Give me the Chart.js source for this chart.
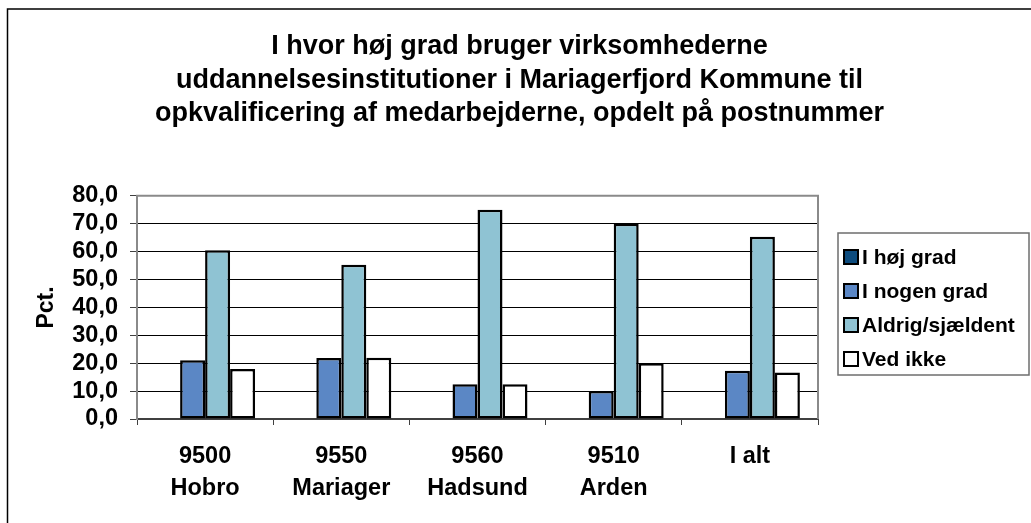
<!DOCTYPE html>
<html>
<head>
<meta charset="utf-8">
<script src="https://cdn.jsdelivr.net/npm/chart.js@4.4.0/dist/chart.umd.min.js"></script>
<style>
  html, body { margin: 0; padding: 0; background: #fff; }
  #wrap { width: 1031px; height: 523px; }
</style>
</head>
<body>
<div id="wrap"><canvas id="chart" width="1031" height="523"></canvas></div>
<script>
// data
var categories = [["9500", "Hobro"], ["9550", "Mariager"], ["9560", "Hadsund"], ["9510", "Arden"], ["I alt"]];
var seriesNames = ["I høj grad", "I nogen grad", "Aldrig/sjældent", "Ved ikke"];
var hoejGrad = [0, 0, 0, 0, 0];
var nogenGrad = [21.1, 21.9, 12.5, 10.0, 17.3];
var aldrig = [60.5, 55.3, 75.0, 70.0, 65.3];
var vedIkke = [17.9, 22.0, 12.5, 20.0, 16.7];
var yTicks = [0, 10, 20, 30, 40, 50, 60, 70, 80];
var colors = ["#0E4C7E", "#5B87C5", "#8FC3D3", "#FFFFFF"];

var FONT = "'Liberation Sans', Arial, sans-serif";

// ramme om hele figuren + plotområde
var frames = {
  id: "frames",
  beforeDraw: function (chart) {
    var ctx = chart.ctx;
    ctx.save();
    ctx.fillStyle = "#fff";
    ctx.fillRect(0, 0, chart.width, chart.height);
    ctx.strokeStyle = "#000";
    ctx.lineWidth = 1.5;
    ctx.strokeRect(7.5, 9, 1200, 1200);
    ctx.restore();
  },
  beforeDatasetsDraw: function (chart) {
    var a = chart.chartArea, ctx = chart.ctx;
    ctx.save();
    ctx.strokeStyle = "#8a8a8a";
    ctx.lineWidth = 2;
    ctx.beginPath();
    ctx.moveTo(a.left, a.bottom);
    ctx.lineTo(a.left, a.top);
    ctx.lineTo(a.right, a.top);
    ctx.lineTo(a.right, a.bottom);
    ctx.stroke();
    ctx.restore();
  }
};

// legende i boks til højre
var boxLegend = {
  id: "boxLegend",
  afterDraw: function (chart) {
    var ctx = chart.ctx;
    var x = 838, y = 233, w = 191, h = 142;
    ctx.save();
    ctx.strokeStyle = "#6e6e6e";
    ctx.lineWidth = 1.5;
    ctx.strokeRect(x, y, w, h);
    ctx.font = "bold 21px " + FONT;
    ctx.textBaseline = "middle";
    chart.data.datasets.forEach(function (ds, i) {
      var cy = y + 24 + i * 34;
      ctx.fillStyle = ds.backgroundColor;
      ctx.fillRect(x + 6, cy - 7, 14, 14);
      ctx.strokeStyle = "#000";
      ctx.lineWidth = 2;
      ctx.strokeRect(x + 6, cy - 7, 14, 14);
      ctx.fillStyle = "#000";
      ctx.fillText(ds.label, x + 24, cy + 1);
    });
    ctx.restore();
  }
};

var datasets = [hoejGrad, nogenGrad, aldrig, vedIkke].map(function (vals, i) {
  return {
    label: seriesNames[i],
    data: vals,
    backgroundColor: colors[i],
    borderColor: "#000",
    borderWidth: 2.5,
    borderSkipped: false,
    categoryPercentage: 0.734,
    barPercentage: 1.0
  };
});

new Chart(document.getElementById("chart"), {
  type: "bar",
  data: { labels: categories, datasets: datasets },
  options: {
    responsive: false,
    animation: false,
    devicePixelRatio: 1,
    layout: { padding: { left: 8, right: 0, top: 0, bottom: 0 } },
    plugins: {
      legend: { display: false },
      tooltip: { enabled: false },
      title: {
        display: true,
        text: [
          "I hvor høj grad bruger virksomhederne",
          "uddannelsesinstitutioner i Mariagerfjord Kommune til",
          "opkvalificering af medarbejderne, opdelt på postnummer"
        ],
        color: "#000",
        font: { family: FONT, size: 27, weight: "bold", lineHeight: 1.245 },
        padding: { top: 30, bottom: 65 }
      }
    },
    scales: {
      x: {
        afterFit: function (s) { s.height = 104; },
        grid: { offset: true, drawOnChartArea: false, tickLength: 6, color: "#404040", lineWidth: 1 },
        border: { color: "#404040", width: 2 },
        ticks: {
          color: "#000",
          padding: 16,
          maxRotation: 0,
          autoSkip: false,
          font: { family: FONT, size: 23.5, weight: "bold", lineHeight: 1.36 }
        }
      },
      y: {
        min: 0,
        max: 80,
        afterFit: function (s) { s.width = 129; },
        afterBuildTicks: function (s) { s.ticks = yTicks.map(function (v) { return { value: v }; }); },
        grid: { color: "#000", lineWidth: 1, tickLength: 7, tickColor: "#404040" },
        border: { color: "#8a8a8a", width: 2 },
        title: {
          display: true,
          text: "Pct.",
          color: "#000",
          font: { family: FONT, size: 23, weight: "bold" },
          padding: { top: 25, bottom: 0 }
        },
        ticks: {
          color: "#000",
          padding: 12,
          autoSkip: false,
          font: { family: FONT, size: 23.5, weight: "bold" },
          callback: function (v) { return Number(v).toFixed(1).replace(".", ","); }
        }
      },
      // tom akse som giver plads til legenden til højre
      spacer: {
        type: "linear",
        position: "right",
        afterFit: function (s) { s.width = 213; },
        grid: { display: false },
        border: { display: false },
        ticks: { display: false }
      }
    }
  },
  plugins: [frames, boxLegend]
});
</script>
</body>
</html>
